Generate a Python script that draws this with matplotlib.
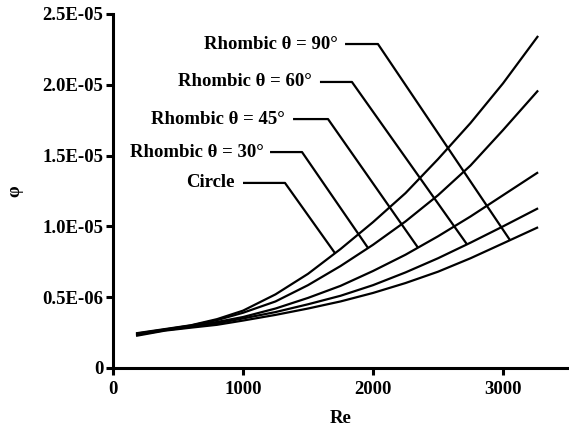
import numpy as np
import matplotlib
matplotlib.use("Agg")
import matplotlib.pyplot as plt

# Re values
re = [177, 400, 600, 800, 1000, 1250, 1500, 1750, 2000, 2250, 2500, 2750, 3000, 3270]

# phi values (x1e-6), one list per curve, top curve first
circle = [2.45, 2.75, 3.02, 3.45, 4.05, 5.2, 6.65, 8.4, 10.3, 12.35, 14.75, 17.3, 20.1, 23.45]
theta30 = [2.42, 2.72, 3.0, 3.38, 3.9, 4.7, 5.85, 7.2, 8.7, 10.35, 12.2, 14.3, 16.8, 19.6]
theta45 = [2.38, 2.7, 2.95, 3.25, 3.6, 4.2, 4.95, 5.8, 6.85, 8.0, 9.3, 10.7, 12.2, 13.82]
theta60 = [2.33, 2.67, 2.9, 3.15, 3.5, 3.95, 4.5, 5.1, 5.85, 6.75, 7.75, 8.85, 10.0, 11.28]
theta90 = [2.27, 2.64, 2.85, 3.05, 3.35, 3.75, 4.2, 4.7, 5.3, 6.0, 6.8, 7.75, 8.8, 9.94]

labels = ["Circle", "Rhombic θ = 30°", "Rhombic θ = 45°", "Rhombic θ = 60°", "Rhombic θ = 90°"]
series = [circle, theta30, theta45, theta60, theta90]

# where each leader line touches its curve (Re)
leader_re = [1708, 1962, 2346, 2723, 3054]
# label placement: text right edge, leader start, leader corner (Re), height (phi)
text_x = [938, 1162, 1323, 1531, 1731]
lead_x0 = [1000, 1208, 1385, 1592, 1785]
lead_x1 = [1323, 1454, 1654, 1838, 2038]
text_y = [1.307e-5, 1.525e-5, 1.758e-5, 2.02e-5, 2.288e-5]

yticks = [0, 0.5e-5, 1.0e-5, 1.5e-5, 2.0e-5, 2.5e-5]
ytick_labels = ["0", "0.5E-06", "1.0E-05", "1.5E-05", "2.0E-05", "2.5E-05"]
xticks = [0, 1000, 2000, 3000]

plt.rcParams['font.family'] = ['Liberation Serif', 'DejaVu Serif']
plt.rcParams['font.weight'] = 'bold'

fig = plt.figure(figsize=(5.69, 4.29), dpi=100)
ax = fig.add_axes([113 / 569, 1 - 368 / 429, 455 / 569, 354 / 429])

for vals in series:
    ax.plot(re, np.array(vals) * 1e-6, color='black', lw=1.6,
            solid_capstyle='butt', solid_joinstyle='round')

for i, lab in enumerate(labels):
    y_end = np.interp(leader_re[i], re, np.array(series[i]) * 1e-6)
    ax.plot([lead_x0[i], lead_x1[i], leader_re[i]], [text_y[i], text_y[i], y_end],
            color='black', lw=1.6, solid_capstyle='butt')
    ax.text(text_x[i], text_y[i], lab, ha='right', va='center', fontsize=13.5,
            fontweight='bold')

ax.set_xlim(0, 3500)
ax.set_ylim(0, 2.5e-5)
ax.set_xticks(xticks)
ax.set_xticklabels([str(x) for x in xticks])
ax.set_yticks(yticks)
ax.set_yticklabels(ytick_labels)

for s in ['top', 'right']:
    ax.spines[s].set_visible(False)
for s in ['left', 'bottom']:
    ax.spines[s].set_linewidth(2.2)
ax.tick_params(direction='out', length=5, width=2.2, labelsize=13.5)
ax.tick_params(axis='x', pad=4)
ax.tick_params(axis='y', pad=2)

ax.set_xlabel("Re", fontsize=13.5, fontweight='bold', labelpad=9)
ax.set_ylabel("φ", fontsize=13.5, fontweight='bold')
ax.yaxis.set_label_coords(-0.196, 0.5)

fig.savefig("out.png", dpi=100)
